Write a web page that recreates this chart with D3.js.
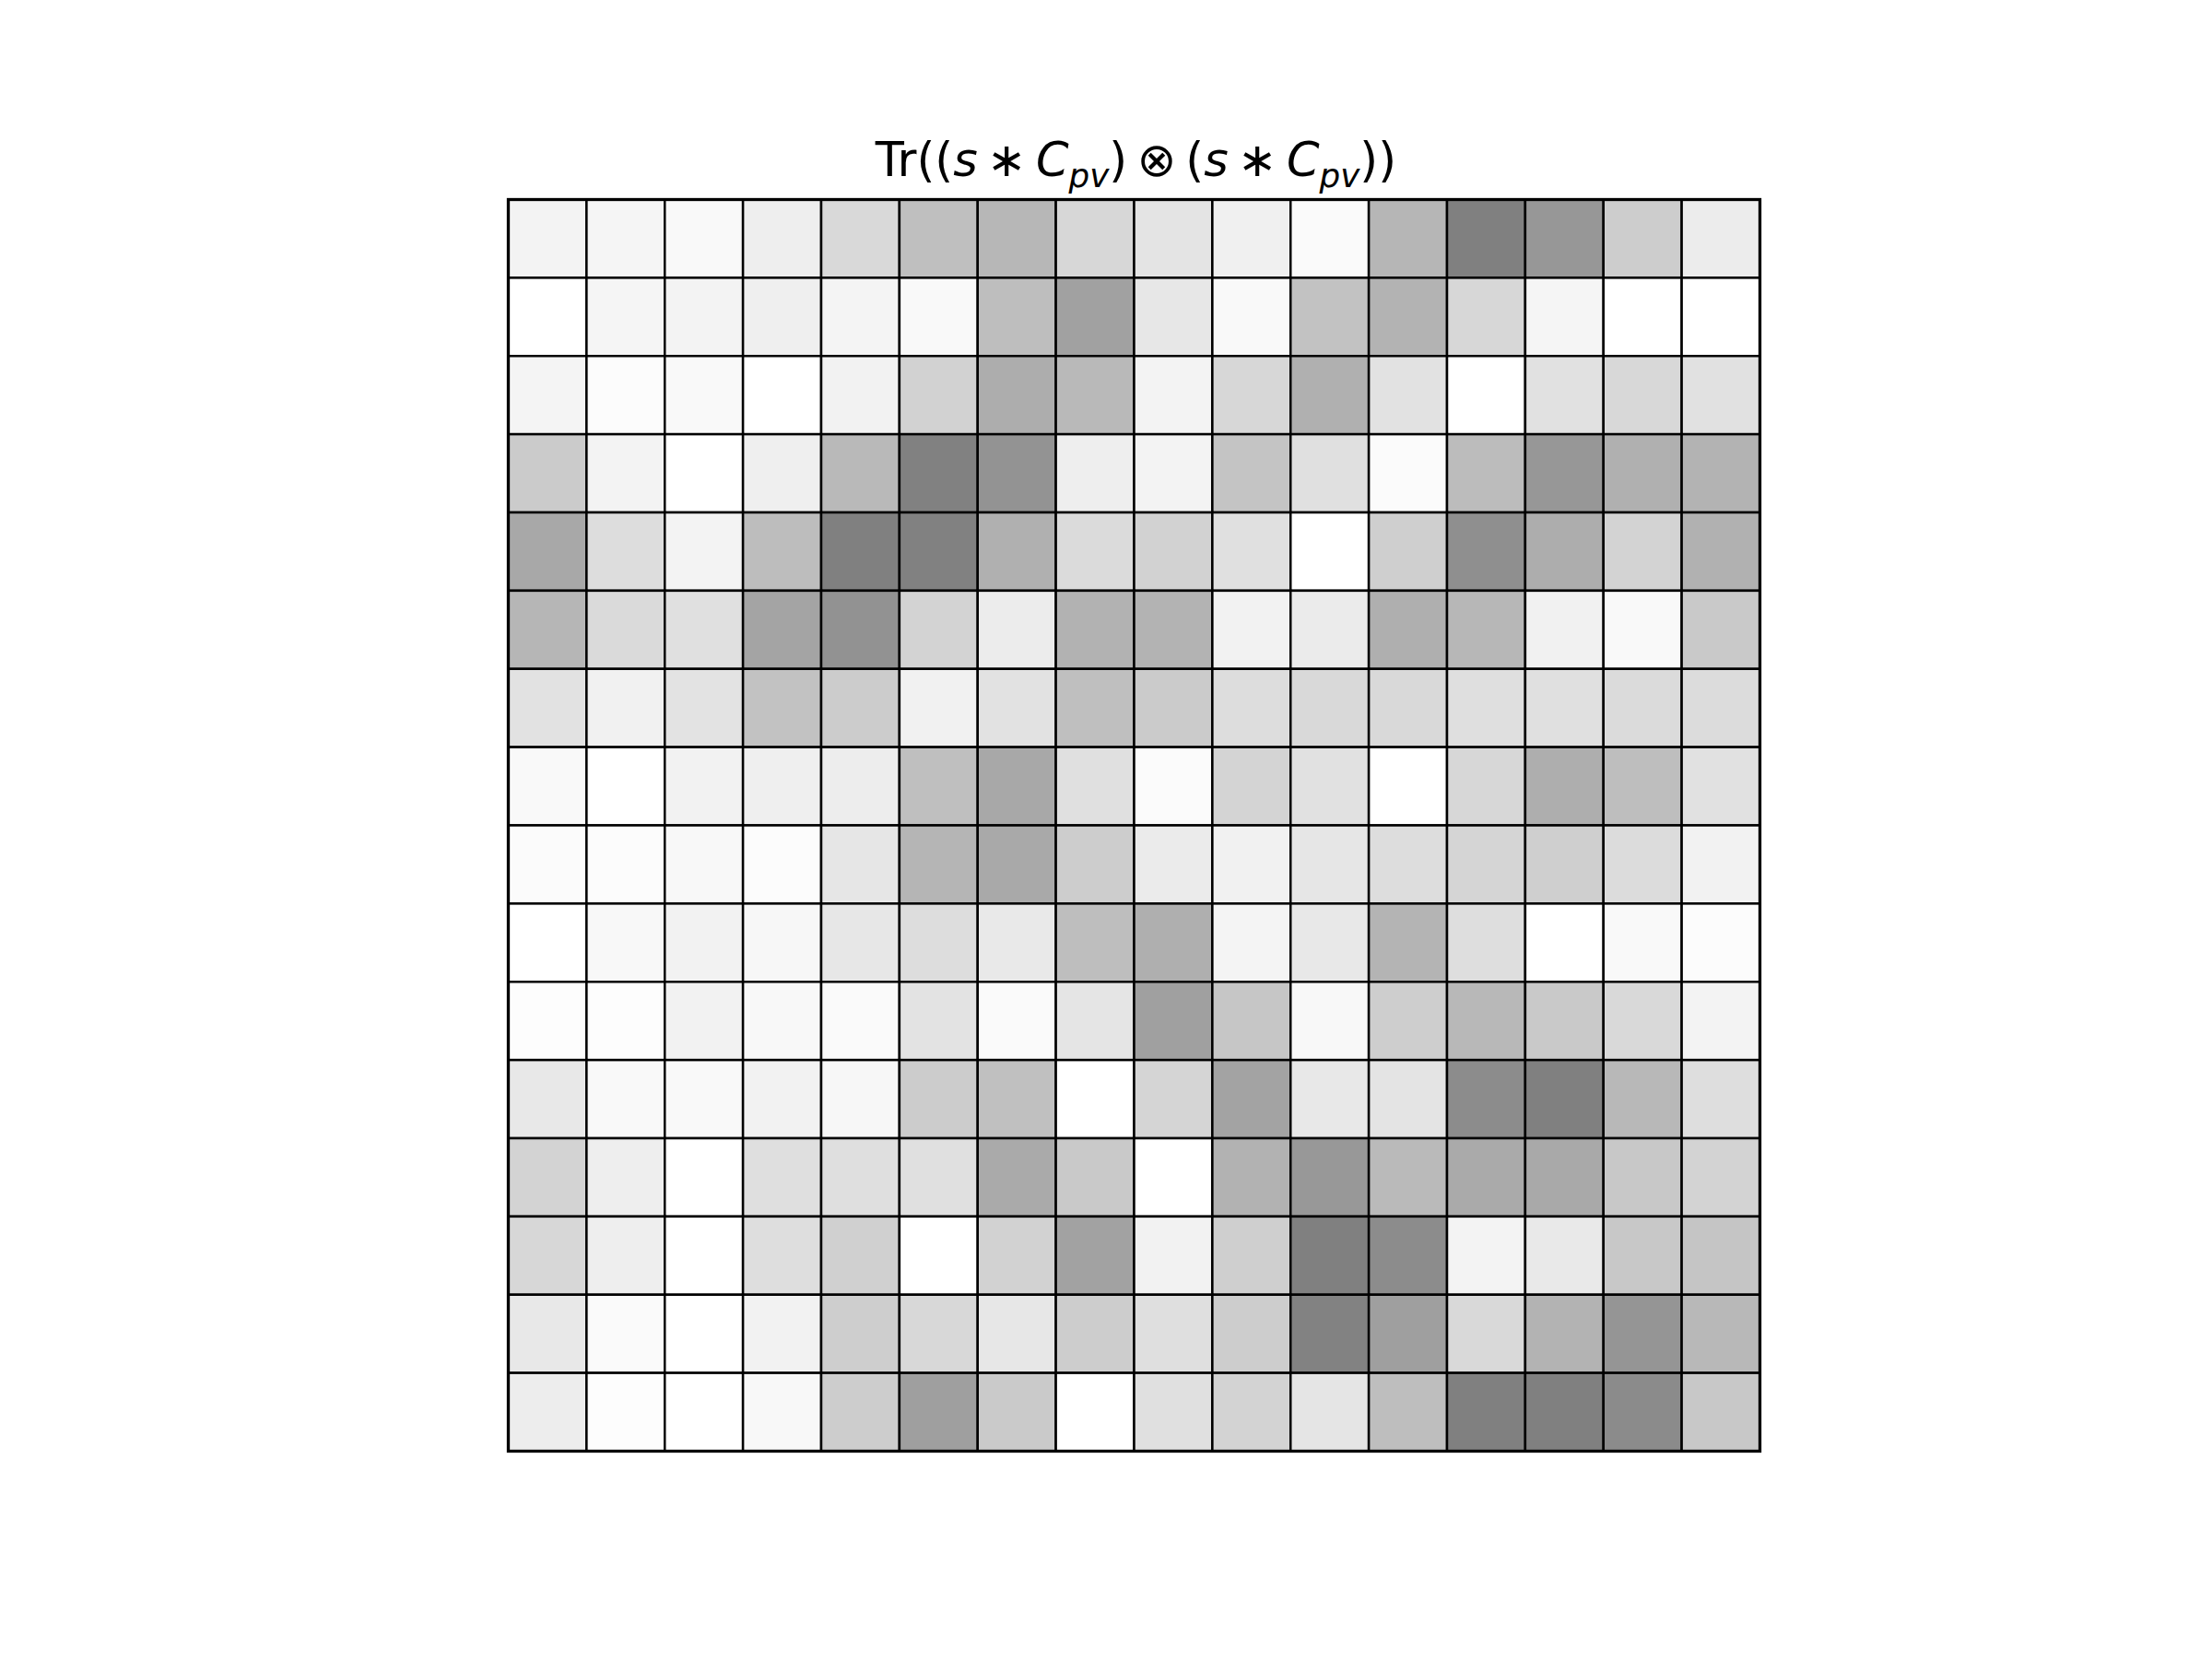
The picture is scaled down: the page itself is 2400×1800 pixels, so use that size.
<!DOCTYPE html>
<html>
<head>
<meta charset="utf-8">
<script src="https://cdn.jsdelivr.net/npm/d3@7"></script>
<style>
  html, body { margin: 0; padding: 0; background: #ffffff; }
  svg { display: block; }
</style>
</head>
<body>
<script>
// Row / column indices of the 16x16 matrix
const rowIndex = d3.range(16);
const colIndex = d3.range(16);

// Cell intensities (0 = white, 127 = darkest), top row first
const row00 = [12,10,6,17,38,64,72,40,27,15,5,73,127,104,50,19];
const row01 = [0,10,12,16,11,6,65,94,24,6,61,76,40,10,0,0];
const row02 = [11,3,6,0,13,45,82,70,12,40,79,29,0,30,39,30];
const row03 = [52,12,0,16,70,126,108,17,12,59,31,4,67,104,79,76];
const row04 = [87,34,12,66,127,126,79,36,45,31,0,48,112,82,44,78];
const row05 = [73,37,31,91,109,44,19,77,76,13,20,80,72,14,6,54];
const row06 = [29,14,28,61,51,14,29,64,52,34,38,38,32,31,36,35];
const row07 = [6,0,13,16,18,64,87,31,4,43,30,0,40,81,65,30];
const row08 = [4,3,7,3,25,74,86,50,20,14,25,34,42,48,35,13];
const row09 = [0,7,13,8,24,34,22,65,80,11,23,75,33,0,6,3];
const row10 = [2,2,13,7,5,28,5,26,95,57,7,49,71,54,38,12];
const row11 = [23,6,6,13,8,51,63,0,42,92,23,27,115,127,71,33];
const row12 = [44,17,0,32,32,31,85,54,0,77,103,69,85,86,55,44];
const row13 = [40,17,0,33,47,0,45,93,13,48,127,115,12,22,55,58];
const row14 = [23,5,0,13,49,39,24,50,32,50,125,96,38,76,106,71];
const row15 = [18,2,0,7,50,96,53,0,31,44,26,65,127,127,116,55];

const matrix = [row00,row01,row02,row03,row04,row05,row06,row07,
                row08,row09,row10,row11,row12,row13,row14,row15];

const W = 2400, H = 1800;
const gx = 551.5, gy = 216.5, gs = 1358;

const svg = d3.select("body").append("svg")
  .attr("width", W).attr("height", H)
  .attr("viewBox", `0 0 ${W} ${H}`);

svg.append("rect").attr("width", W).attr("height", H).attr("fill", "#ffffff");

const x = d3.scaleBand().domain(colIndex).range([gx, gx + gs]).padding(0);
const y = d3.scaleBand().domain(rowIndex).range([gy, gy + gs]).padding(0);
const color = d3.scaleLinear().domain([0, 127]).range(["#ffffff", "#808080"]);

const cells = [];
rowIndex.forEach(r => colIndex.forEach(c => cells.push({r, c, v: matrix[r][c]})));

svg.append("g").selectAll("rect")
  .data(cells)
  .join("rect")
  .attr("x", d => x(d.c))
  .attr("y", d => y(d.r))
  .attr("width", x.bandwidth())
  .attr("height", y.bandwidth())
  .attr("fill", d => color(d.v))
  .attr("stroke", "#000000")
  .attr("stroke-width", 2.5);

// axes frame
svg.append("rect")
  .attr("x", gx).attr("y", gy)
  .attr("width", gs).attr("height", gs)
  .attr("fill", "none")
  .attr("stroke", "#000000")
  .attr("stroke-width", 3.3);

// Title: Tr((s ∗ C_pv) ⊗ (s ∗ C_pv))
const fs = 51;
const title = svg.append("text")
  .attr("x", gx + gs / 2 + 2)
  .attr("y", 191)
  .attr("text-anchor", "middle")
  .attr("font-family", "DejaVu Sans")
  .attr("font-size", fs)
  .attr("fill", "#000000");

const sub = 0.24 * fs;
const parts = [
  {t: "Tr((", it: false},
  {t: "s", it: true},
  {t: "\u2009\u2217\u2009", it: false},
  {t: "C", it: true},
  {t: "pv", it: true, sub: true},
  {t: ")\u2009\u2297\u2009(", it: false},
  {t: "s", it: true},
  {t: "\u2009\u2217\u2009", it: false},
  {t: "C", it: true},
  {t: "pv", it: true, sub: true},
  {t: "))", it: false}
];
let shifted = false;
parts.forEach(p => {
  const ts = title.append("tspan").text(p.t);
  if (p.it) ts.attr("font-style", "oblique");
  if (p.sub) {
    ts.attr("font-size", fs * 0.7).attr("dy", sub);
    shifted = true;
  } else if (shifted) {
    ts.attr("dy", -sub);
    shifted = false;
  }
});
</script>
</body>
</html>
